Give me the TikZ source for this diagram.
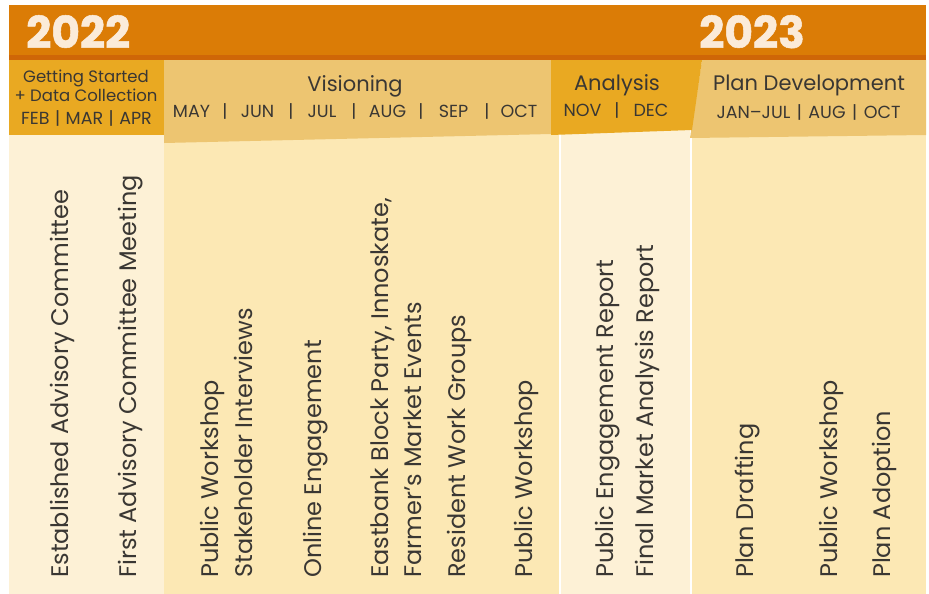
\documentclass[tikz,border=0pt]{standalone}
\usepackage{fontspec}
\setmainfont{Poppins}
\definecolor{orangebar}{HTML}{DB7C06}
\definecolor{orangedark}{HTML}{CF6607}
\definecolor{gold}{HTML}{E9A922}
\definecolor{beige}{HTML}{EDC571}
\definecolor{bodylight}{HTML}{FDF1D6}
\definecolor{bodydark}{HTML}{FCE8B4}
\definecolor{yeartxt}{HTML}{FBEBD9}
\definecolor{txt}{HTML}{3A3733}
\newcommand{\bargap}{\hspace{6.5pt}|\hspace{6.5pt}}
\newcommand{\febgap}{\hspace{5.5pt}|\hspace{5.5pt}}
\begin{document}
\begin{tikzpicture}[x=1pt,y=-1pt,
  item/.style={rotate=90,anchor=base west,inner sep=0pt,text=txt,font=\fontsize{24}{24}\selectfont},
  phase/.style={anchor=base,inner sep=0pt,text=txt,font=\fontsize{21}{21}\selectfont},
  month/.style={anchor=base,inner sep=0pt,text=txt,font=\fontsize{17.5}{17.5}\selectfont},
  small/.style={anchor=base,inner sep=0pt,text=txt,font=\fontsize{16.5}{16.5}\selectfont},
  year/.style={anchor=base west,inner sep=0pt,text=yeartxt,font=\fontsize{44}{44}\selectfont\bfseries\addfontfeature{FakeBold=1.2}}]
\useasboundingbox (0,0) rectangle (929,594);
\fill[white] (0,0) rectangle (929,594);
% column bodies
\fill[bodylight] (9,125) rectangle (164,594);
\fill[bodydark] (164,125) rectangle (560,594);
\fill[bodylight] (560,125) rectangle (691,594);
\fill[bodydark] (691,125) rectangle (926,594);
\draw[white,line width=1.2pt] (560,133) -- (560,594);
\draw[white,line width=1.2pt] (691,130) -- (691,594);
% phase headers
\fill[gold] (9,60) rectangle (164,135);
\fill[beige] (164,60) -- (551,60) -- (551,134) -- (164,143) -- cycle;
\fill[beige] (702,60) -- (926,60) -- (926,135) -- (690,138) -- cycle;
\fill[gold] (551,60) -- (702,60) -- (692,130) -- (551,135) -- cycle;
% top bar
\fill[orangebar] (9,5) rectangle (926,55);
\fill[orangedark] (9,55) rectangle (926,60);
% years
\node[year] (y22) at (26,48) {2022};
\node[year] (y23) at (699,48) {2023};
% header texts
\node[small] (gs1) at (86,82) {Getting Started};
\node[small] (gs2) at (86,101) {+ Data Collection};
\node[month] (gs3) at (86.5,124) {FEB\febgap MAR\febgap APR};
\node[phase] (vis) at (355,92) {Visioning};
\foreach \t/\x [count=\i] in {MAY/191.5,|/225,JUN/257.5,|/291,JUL/322,|/354,AUG/387.5,|/421,SEP/453.5,|/487,OCT/519}
  \node[month] (vm\i) at (\x,117) {\t};
\node[phase] (ana) at (617,91) {Analysis};
\node[month] (nov) at (582.5,116) {NOV};
\node[month] (ab) at (617,116) {|};
\node[month] (dec) at (651,116) {DEC};
\node[phase] (pd) at (809,91) {Plan Development};
\node[month] (pdm) at (808.5,118) {JAN–JUL\bargap AUG\bargap OCT};
% items
\node[item] (i1) at (68.3,578) {Established Advisory Committee};
\node[item] (i2) at (136.7,578) {First Advisory Committee Meeting};
\node[item] (i3) at (218,578) {Public Workshop};
\node[item] (i4) at (252,578) {Stakeholder Interviews};
\node[item] (i5) at (321.5,578) {Online Engagement};
\node[item] (i6) at (388,578) {Eastbank Block Party, Innoskate,};
\node[item] (i7) at (421.7,578) {Farmer’s Market Events};
\node[item] (i8) at (465,578) {Resident Work Groups};
\node[item] (i9) at (532,578) {Public Workshop};
\node[item] (i10) at (613,578) {Public Engagement Report};
\node[item] (i11) at (653,578) {Final Market Analysis Report};
\node[item] (i12) at (753,578) {Plan Drafting};
\node[item] (i13) at (837,578) {Public Workshop};
\node[item] (i14) at (890,578) {Plan Adoption};
\end{tikzpicture}
\end{document}
